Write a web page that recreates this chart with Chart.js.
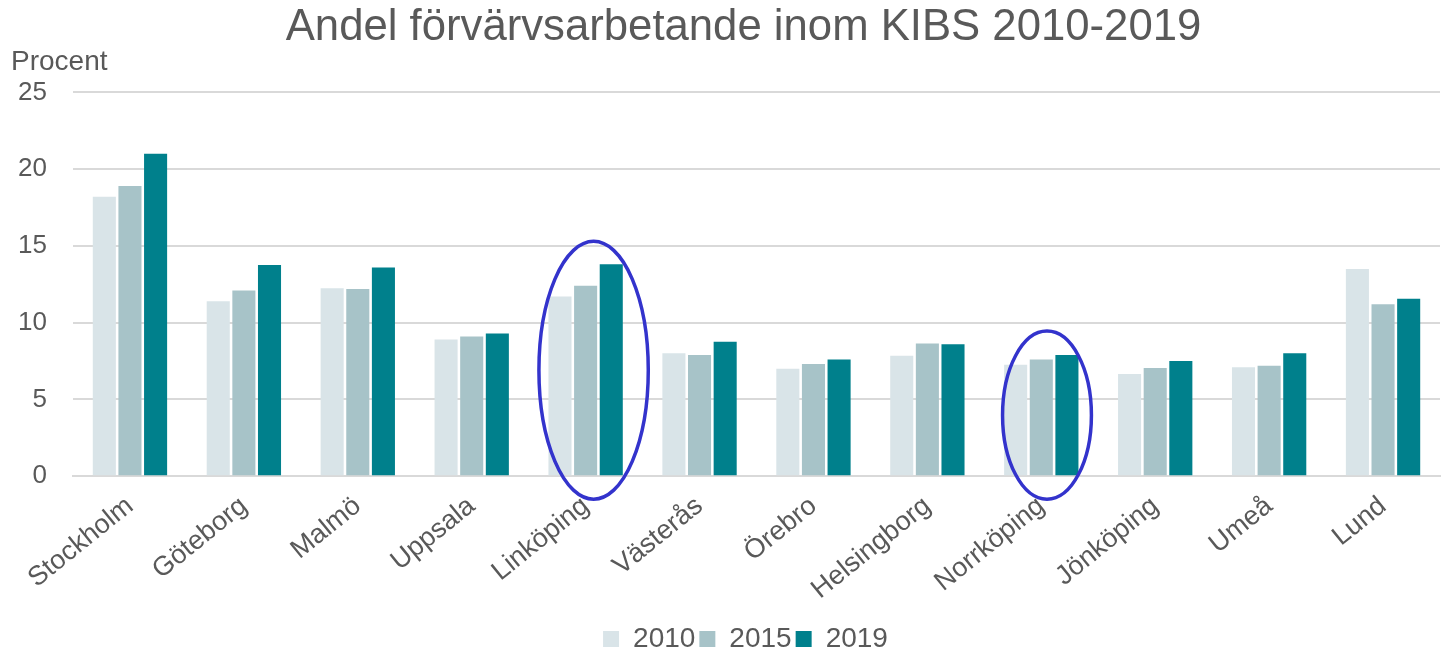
<!DOCTYPE html>
<html>
<head>
<meta charset="utf-8">
<script src="https://cdn.jsdelivr.net/npm/chart.js@4/dist/chart.umd.min.js"></script>
<style>
html,body{margin:0;padding:0;background:#fff;}
canvas{display:block;}
</style>
</head>
<body>
<canvas id="c" width="1444" height="651"></canvas>
<script>
const categories = ["Stockholm","Göteborg","Malmö","Uppsala","Linköping","Västerås","Örebro","Helsingborg","Norrköping","Jönköping","Umeå","Lund"];
const seriesNames = ["2010","2015","2019"];
const values2010 = [18.2,11.4,12.25,8.9,11.7,8.0,7.0,7.85,7.25,6.65,7.1,13.5];
const values2015 = [18.9,12.1,12.2,9.1,12.4,7.9,7.3,8.65,7.6,7.05,7.2,11.2];
const values2019 = [21.0,13.75,13.6,9.3,13.8,8.75,7.6,8.6,7.9,7.5,8.0,11.55];
const yTicks = [0,5,10,15,20,25];
const titleText = "Andel förvärvsarbetande inom KIBS 2010-2019";
const yAxisLabel = "Procent";

const colors = ["#D9E4E8","#A7C3C8","#00808C"];
const FONT = "'Liberation Sans', Arial, sans-serif";
const TXT = "#595959";

// Ellipse annotations (in category / value units)
const ellipses = [
  {cat:"Linköping", dx:0.07, rx:0.48, top:15.3, bottom:-1.5},
  {cat:"Norrköping", dx:0.05, rx:0.39, top:9.45, bottom:-1.5}
];

const ellipsePlugin = {
  id:'ellipses',
  afterLayout(chart){
    const tb = chart.titleBlock;
    if (tb) { tb.left += 36; }
    const lg = chart.legend;
    if (lg) { lg.left += 40; }
  },
  afterDatasetsDraw(chart){
    const {ctx, scales:{x,y}} = chart;
    ctx.save();
    ctx.strokeStyle = "#3333CC";
    ctx.lineWidth = 3.5;
    ellipses.forEach(e=>{
      const i = categories.indexOf(e.cat);
      const cx = x.getPixelForValue(i + e.dx);
      const rx = Math.abs(x.getPixelForValue(i + e.rx) - x.getPixelForValue(i));
      const yt = y.getPixelForValue(e.top), yb = y.getPixelForValue(e.bottom);
      ctx.beginPath();
      ctx.ellipse(cx,(yt+yb)/2,rx,(yb-yt)/2,0,0,Math.PI*2);
      ctx.stroke();
    });
    ctx.restore();
  }
};

const data = {
  labels: categories,
  datasets: [values2010,values2015,values2019].map((v,i)=>({
    label: seriesNames[i],
    data: v,
    backgroundColor: colors[i],
    borderWidth: 0,
    barPercentage: 0.9,
    categoryPercentage: 0.675
  }))
};

new Chart(document.getElementById('c'), {
  type:'bar',
  data,
  plugins:[ellipsePlugin],
  options:{
    responsive:false,
    animation:false,
    devicePixelRatio:1,
    layout:{padding:{left:11,right:4,top:0,bottom:-12}},
    plugins:{
      title:{display:true,text:titleText,color:TXT,font:{family:FONT,size:43.7,weight:'normal'},padding:{top:2,bottom:0}},
      subtitle:{display:true,text:yAxisLabel,align:'start',color:TXT,font:{family:FONT,size:28,weight:'normal',lineHeight:1.0},padding:{top:-6,bottom:16}},
      legend:{position:'bottom',labels:{color:TXT,font:{family:FONT,size:28},boxWidth:16,boxHeight:16,padding:4}},
      tooltip:{enabled:false}
    },
    scales:{
      x:{
        grid:{display:false},
        border:{display:true,color:"#D9D9D9",width:2},
        afterFit(s){ s.height += 9; },
        ticks:{color:TXT,font:{family:FONT,size:27},minRotation:39,maxRotation:39,padding:6}
      },
      y:{
        min:0,max:25,
        afterBuildTicks(s){ s.ticks = yTicks.map(v=>({value:v})); },
        afterFit(s){ s.width = 62; },
        grid:{color:"#D9D9D9",lineWidth:2,drawTicks:false},
        border:{display:false},
        ticks:{color:TXT,font:{family:FONT,size:26},padding:26}
      }
    }
  }
});
</script>
</body>
</html>
